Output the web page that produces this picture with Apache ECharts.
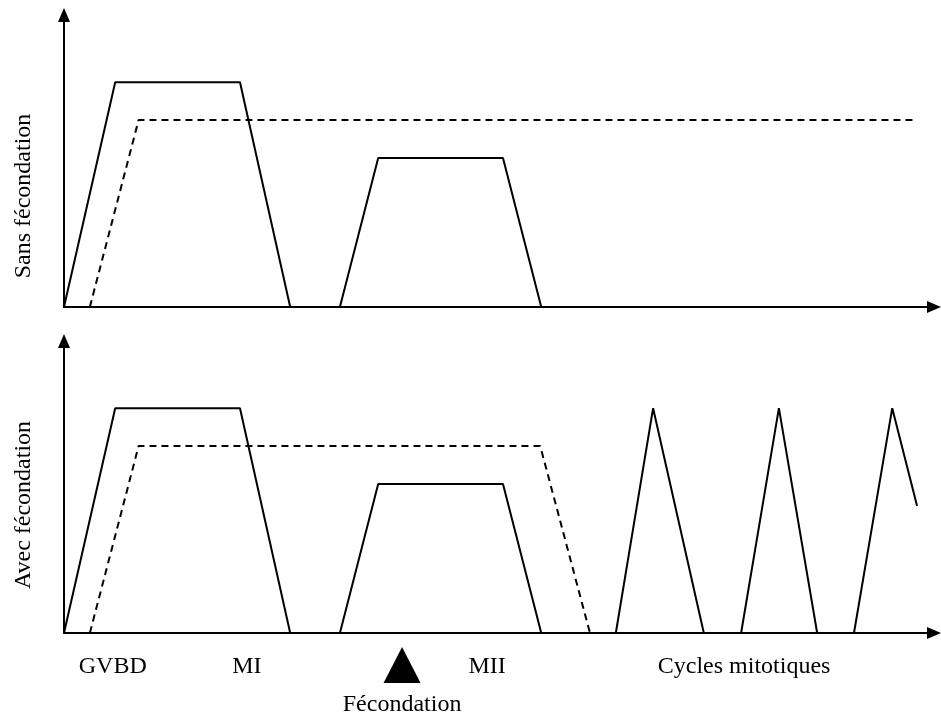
<!DOCTYPE html>
<html>
<head>
<meta charset="utf-8">
<title>MPF / MAPK</title>
<script src="https://cdn.jsdelivr.net/npm/echarts@6/dist/echarts.min.js"></script>
<style>
  html, body { margin: 0; padding: 0; background: #fff; }
  #chart { width: 941px; height: 715px; }
</style>
</head>
<body>
<div id="chart"></div>
<script>
// temps (unités arbitraires) / activité (0-100), null = coupure du tracé
// trait plein, sans fécondation
const pleinSansX = [0, 10.3, 35.4, 45.5, null, 55.5, 63.2, 88.3, 96.0]
const pleinSansY = [0, 77, 77, 0, null, 0, 51, 51, 0]
// pointillés, sans fécondation
const tiretSansX = [5.2, 15.0, 171.6]
const tiretSansY = [0, 64, 64]
// trait plein, avec fécondation
const pleinAvecX = [0, 10.3, 35.4, 45.5, null, 55.5, 63.2, 88.3, 96.0, null,
  111.0, 118.5, 128.7, null, 136.2, 143.8, 151.5, null, 158.9, 166.6, 171.6]
const pleinAvecY = [0, 77, 77, 0, null, 0, 51, 51, 0, null,
  0, 77, 0, null, 0, 77, 0, null, 0, 77, 43.5]
// pointillés, avec fécondation
const tiretAvecX = [5.2, 15.0, 95.8, 105.8]
const tiretAvecY = [0, 64, 64, 0]

// étiquettes sous l'axe
const etapes = ['GVBD', 'MI', 'MII', 'Cycles mitotiques']
const etapesX = [9.8, 36.8, 85.1, 136.8]
const fecondationX = 68.0
const axeNoms = ['Sans fécondation', 'Avec fécondation']

const police = 'Liberation Serif'

function paires(xs, ys) {
  return xs.map((x, i) => (x === null || ys[i] === null ? ['-', '-'] : [x, ys[i]]))
}

const chart = echarts.init(document.getElementById('chart'))

const axeLigne = {
  show: true,
  symbol: ['none', 'triangle'],
  symbolSize: [12, 14],
  lineStyle: { color: '#000', width: 2 }
}

function axeX(i) {
  return {
    type: 'value',
    gridIndex: i,
    min: 0,
    max: 175,
    axisLine: axeLigne,
    axisTick: { show: false },
    axisLabel: { show: false },
    splitLine: { show: false }
  }
}

function axeY(i, decalage) {
  return {
    type: 'value',
    gridIndex: i,
    min: 0,
    max: 100,
    name: axeNoms[i],
    nameLocation: 'middle',
    nameRotate: 90,
    nameGap: 28,
    nameTextStyle: {
      fontFamily: police,
      fontSize: 24,
      color: '#000',
      padding: [0, decalage, 0, 0]
    },
    axisLine: axeLigne,
    axisTick: { show: false },
    axisLabel: { show: false },
    splitLine: { show: false }
  }
}

function trace(nom, i, xs, ys, tiret) {
  return {
    name: nom,
    type: 'line',
    xAxisIndex: i,
    yAxisIndex: i,
    data: paires(xs, ys),
    showSymbol: false,
    connectNulls: false,
    silent: true,
    animation: false,
    lineStyle: { color: '#000', width: 2, type: tiret ? [7, 5] : 'solid' }
  }
}

const etiquette = {
  show: true,
  position: 'inside',
  formatter: '{b}',
  fontFamily: police,
  fontSize: 24,
  color: '#000'
}

const option = {
  backgroundColor: '#fff',
  animation: false,
  grid: [
    { left: 64, top: 15, width: 870, height: 292 },
    { left: 64, top: 341, width: 870, height: 292 }
  ],
  xAxis: [axeX(0), axeX(1)],
  yAxis: [axeY(0, 70), axeY(1, 36)],
  series: [
    trace('MPF', 0, pleinSansX, pleinSansY, false),
    trace('MAPK', 0, tiretSansX, tiretSansY, true),
    trace('MPF', 1, pleinAvecX, pleinAvecY, false),
    trace('MAPK', 1, tiretAvecX, tiretAvecY, true),
    {
      type: 'scatter',
      xAxisIndex: 1,
      yAxisIndex: 1,
      clip: false,
      silent: true,
      symbolSize: 0,
      itemStyle: { opacity: 1 },
      data: etapes.map((n, i) => ({ name: n, value: [etapesX[i], -11.6] })),
      label: etiquette
    },
    {
      type: 'scatter',
      xAxisIndex: 1,
      yAxisIndex: 1,
      clip: false,
      silent: true,
      symbol: 'triangle',
      symbolSize: [37, 36],
      itemStyle: { color: '#000', opacity: 1 },
      data: [[fecondationX, -11]]
    },
    {
      type: 'scatter',
      xAxisIndex: 1,
      yAxisIndex: 1,
      clip: false,
      silent: true,
      symbolSize: 0,
      itemStyle: { opacity: 1 },
      data: [{ name: 'Fécondation', value: [fecondationX, -24.7] }],
      label: etiquette
    }
  ]
}

chart.setOption(option)
</script>
</body>
</html>
